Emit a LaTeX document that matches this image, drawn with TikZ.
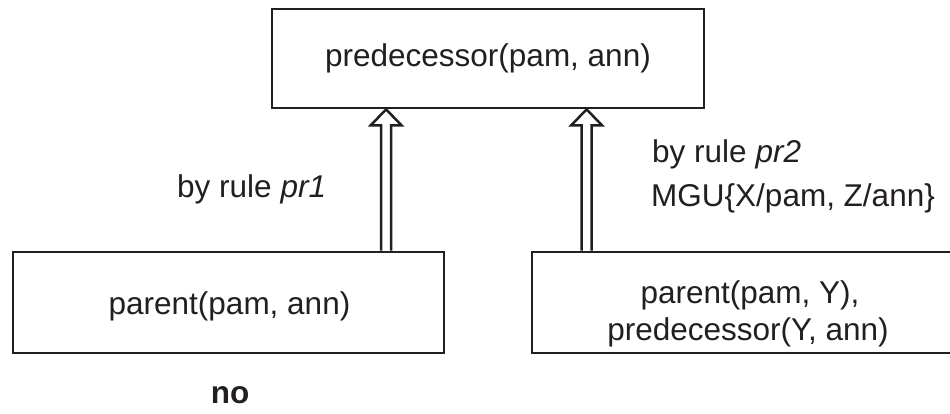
\documentclass[tikz,border=0pt]{standalone}
\usepackage{fontspec}
\setmainfont{Liberation Sans}
\usetikzlibrary{calc}
\definecolor{ink}{RGB}{35,31,32}
\begin{document}
\begin{tikzpicture}[x=1pt,y=-1pt,
  box/.style={draw=ink, line width=2.8pt, fill=white, minimum width=#1, minimum height=100pt, inner sep=0pt},
  txt/.style={text=ink, font=\fontsize{31.5}{37}\selectfont, inner sep=0pt, anchor=base},
  lbl/.style={txt, anchor=base west},
  hollow/.style={draw=ink, line width=2.5pt, line join=miter, fill=white}]
\useasboundingbox (0,0) rectangle (950,414);
% boxes
\node[box=432pt, minimum height=99pt] (top) at (488,58.5) {};
\node[box=431pt, minimum height=101pt] (lb) at (228.5,302.5) {};
\node[box=434pt, minimum height=101pt] (rb) at (749,302.5) {};
% box texts
\node[txt] (toptxt) at (488,67) {predecessor(pam, ann)};
\node[txt] (lbtxt) at (229.5,314) {parent(pam, ann)};
\node[txt] (rbtxt1) at (750,303) {parent(pam, Y),};
\node[txt] (rbtxt2) at (748,340) {predecessor(Y, ann)};
% arrow end points
\path (top.south west) ++(115.5,0) coordinate (a1e);
\coordinate (a1s) at (a1e |- lb.north);
\path (top.south west) ++(316,0) coordinate (a2e);
\coordinate (a2s) at (a2e |- rb.north);
% hollow arrows
\draw[hollow] ($(a1s)+(-5,0)$) -- ($(a1e)+(-5,16)$) -- ($(a1e)+(-15.5,16)$) -- (a1e)
  -- ($(a1e)+(15.5,16)$) -- ($(a1e)+(5,16)$) -- ($(a1s)+(5,0)$);
\draw[hollow] ($(a2s)+(-5,0)$) -- ($(a2e)+(-5,16)$) -- ($(a2e)+(-15.5,16)$) -- (a2e)
  -- ($(a2e)+(15.5,16)$) -- ($(a2e)+(5,16)$) -- ($(a2s)+(5,0)$);
% labels
\node[lbl] (l1) at (177,197) {by rule \textit{pr1}};
\node[lbl] (l2) at (652,163) {by rule \textit{pr2}};
\node[lbl] (l3) at (651,207) {MGU\{X/pam, Z/ann\}};
\node[txt, font=\fontsize{31.5}{37}\selectfont\bfseries] (no) at (230,403) {no};
\end{tikzpicture}
\end{document}
